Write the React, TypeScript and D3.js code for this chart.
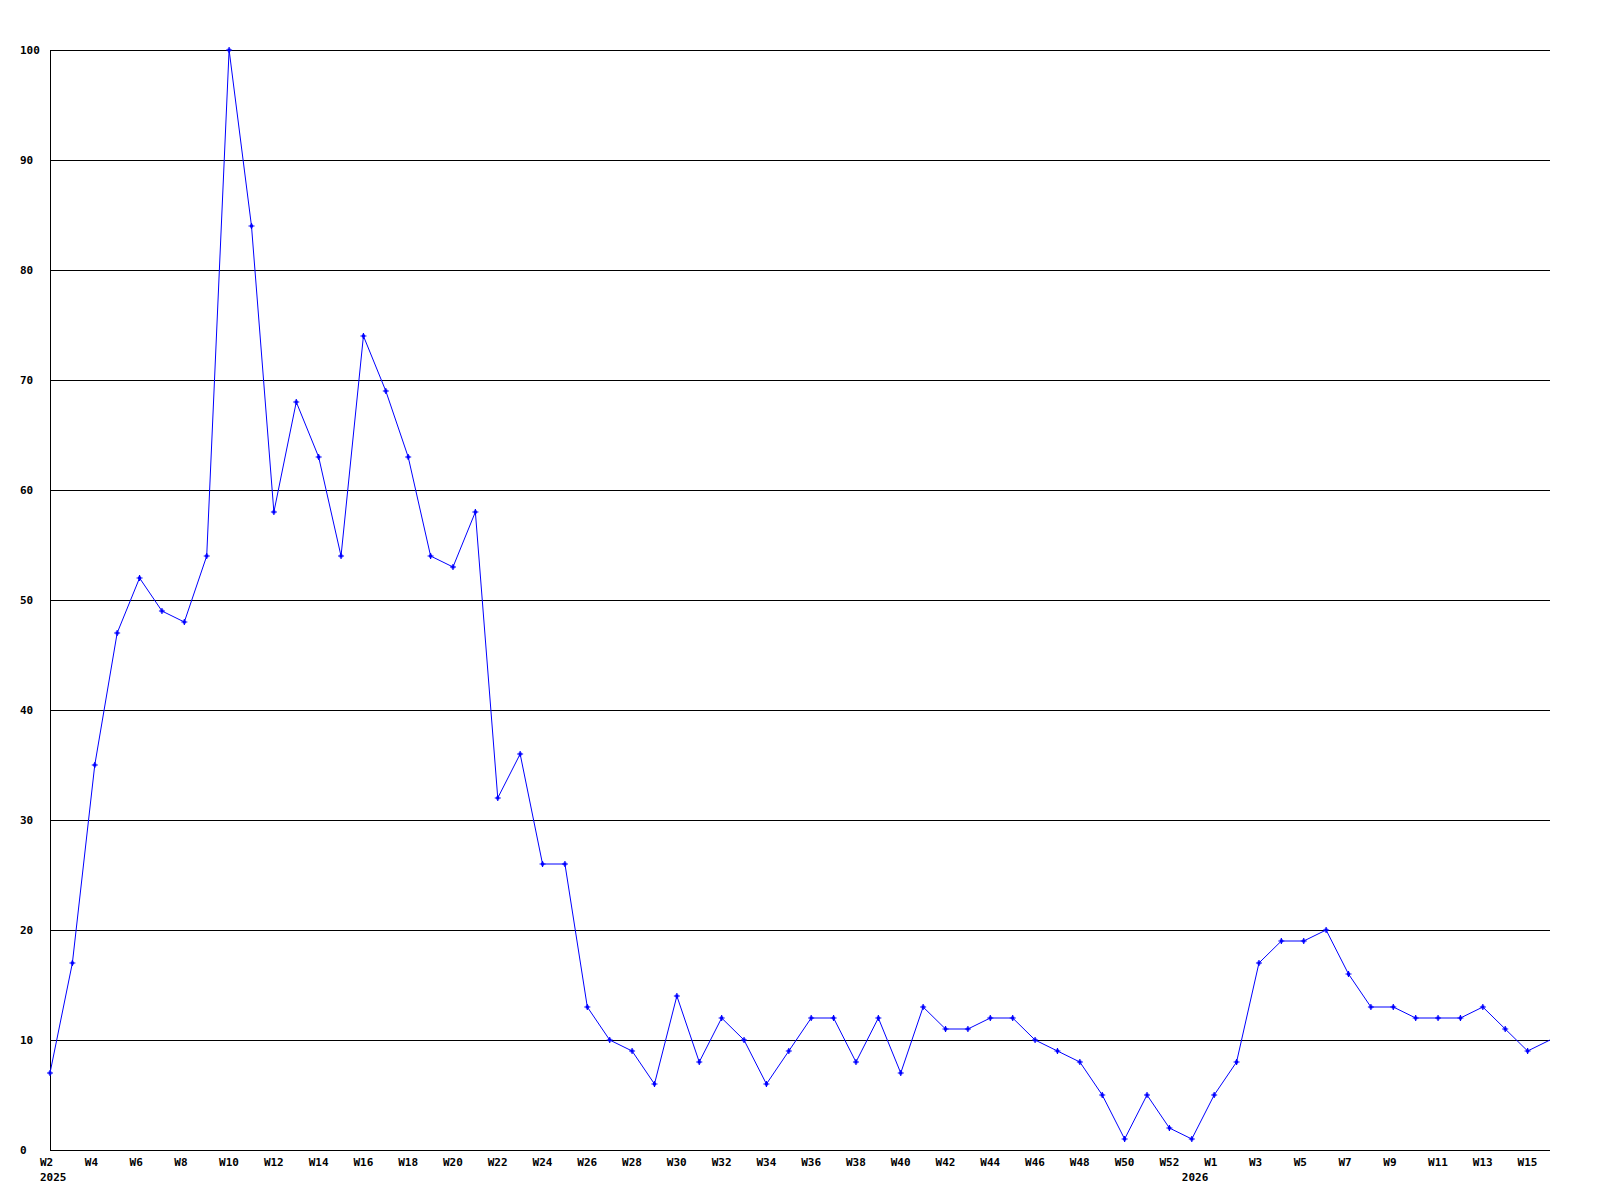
import React, { useEffect, useRef } from 'react';
import * as d3 from 'd3';

// week labels, one per point (2025 W2 .. 2026 W16)
const weeks2025: string[] = d3.range(2, 53).map((w) => `W${w}`);
const weeks2026: string[] = ['W53', ...d3.range(1, 17).map((w) => `W${w}`)];
const weeks: string[] = [...weeks2025, ...weeks2026];

const counts: number[] = [
  7, 17, 35, 47, 52, 49, 48, 54, 100, 84, 58, 68, 63, 54, 74, 69, 63, 54, 53, 58,
  32, 36, 26, 26, 13, 10, 9, 6, 14, 8, 12, 10, 6, 9, 12, 12, 8, 12, 7, 13,
  11, 11, 12, 12, 10, 9, 8, 5, 1, 5, 2, 1, 5, 8, 17, 19, 19, 20, 16, 13,
  13, 12, 12, 12, 13, 11, 9, 10,
];

const yTicks: number[] = [0, 10, 20, 30, 40, 50, 60, 70, 80, 90, 100];

// year labels sit under the first point of each year
const yearLabels: string[] = ['2025', '2026'];
const yearStart: number[] = [0, 51];

const WeeklyChart: React.FC = () => {
  const chartRef = useRef<SVGSVGElement | null>(null);

  useEffect(() => {
    const svg = d3.select(chartRef.current);
    svg.selectAll('*').remove();

    const width = 1600;
    const height = 1200;
    const margin = { top: 50, right: 50, bottom: 50, left: 50 };

    svg.attr('width', width).attr('height', height);

    const x = d3
      .scaleLinear()
      .domain([0, counts.length - 1])
      .range([margin.left, width - margin.right]);

    const y = d3
      .scaleLinear()
      .domain([0, 100])
      .range([height - margin.bottom, margin.top]);

    const font = '"DejaVu Sans Mono", monospace';

    // grid lines
    svg
      .append('g')
      .selectAll('line')
      .data(yTicks.filter((t) => t > 0))
      .enter()
      .append('line')
      .attr('x1', margin.left)
      .attr('x2', width - margin.right)
      .attr('y1', (d) => Math.round(y(d)) + 0.5)
      .attr('y2', (d) => Math.round(y(d)) + 0.5)
      .attr('stroke', '#000')
      .attr('stroke-width', 1);

    // axes lines
    svg
      .append('line')
      .attr('x1', margin.left + 0.5)
      .attr('x2', margin.left + 0.5)
      .attr('y1', margin.top)
      .attr('y2', y(0) + 0.5)
      .attr('stroke', '#000');
    svg
      .append('line')
      .attr('x1', margin.left)
      .attr('x2', width - margin.right)
      .attr('y1', y(0) + 0.5)
      .attr('y2', y(0) + 0.5)
      .attr('stroke', '#000');

    // y labels
    svg
      .append('g')
      .selectAll('text')
      .data(yTicks)
      .enter()
      .append('text')
      .attr('x', 20)
      .attr('y', (d) => y(d))
      .attr('dy', '0.35em')
      .attr('font-family', font)
      .attr('font-weight', 'bold')
      .attr('font-size', 11)
      .text((d) => String(d));

    // x labels, every second week
    const idx = d3.range(0, weeks.length).filter((i) => i % 2 === 0);
    svg
      .append('g')
      .selectAll('text')
      .data(idx)
      .enter()
      .append('text')
      .attr('x', (i) => x(i) - 10)
      .attr('y', 1166)
      .attr('font-family', font)
      .attr('font-weight', 'bold')
      .attr('font-size', 11)
      .text((i) => weeks[i]);

    svg
      .append('g')
      .selectAll('text')
      .data(yearLabels)
      .enter()
      .append('text')
      .attr('x', (d, i) => x(yearStart[i]) - 10)
      .attr('y', 1181)
      .attr('font-family', font)
      .attr('font-weight', 'bold')
      .attr('font-size', 11)
      .text((d) => d);

    // line
    const line = d3
      .line<number>()
      .x((d, i) => x(i))
      .y((d) => y(d));

    svg
      .append('path')
      .datum(counts)
      .attr('d', line)
      .attr('fill', 'none')
      .attr('stroke', '#0000ff')
      .attr('stroke-width', 1);

    // markers (last, partial week has none)
    const marks = svg
      .append('g')
      .selectAll('g')
      .data(counts.slice(0, -1))
      .enter()
      .append('g')
      .attr('transform', (d, i) => `translate(${x(i)},${y(d)})`);

    marks
      .append('path')
      .attr('d', 'M-3,0H3M0,-3V3')
      .attr('stroke', '#0000ff')
      .attr('stroke-width', 1.2);
    marks
      .append('rect')
      .attr('x', -1.5)
      .attr('y', -1.5)
      .attr('width', 3)
      .attr('height', 3)
      .attr('fill', '#0000ff');
  }, []);

  return (
    <svg
      ref={chartRef}
      style={{ position: 'absolute', left: 0, top: 0, background: '#fff' }}
    ></svg>
  );
};

export default function App() {
  return <WeeklyChart />;
}
